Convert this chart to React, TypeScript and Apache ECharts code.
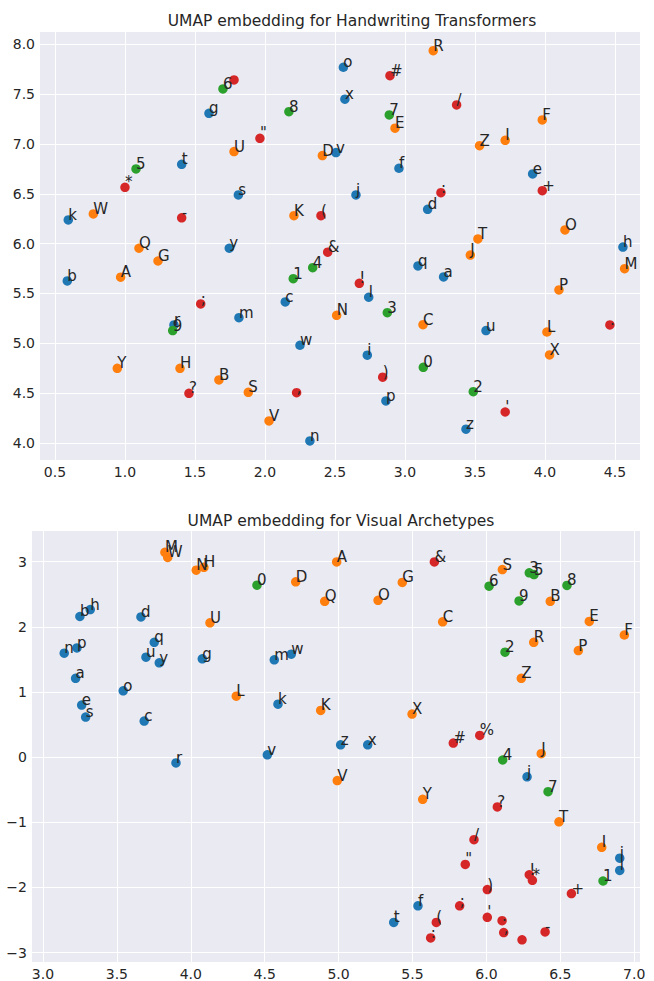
import React, { useEffect, useRef } from 'react';
import * as echarts from 'echarts';

type Pt = [string, number, number];

// ---- Handwriting Transformers embedding ----
const hwLower: Pt[] = [
  ['a', 3.276, 5.666], ['b', 0.588, 5.626], ['c', 2.145, 5.415], ['d', 3.162, 6.345],
  ['e', 3.912, 6.70], ['f', 2.957, 6.757], ['g', 1.60, 7.309], ['h', 4.557, 5.966],
  ['i', 2.731, 4.88], ['j', 2.65, 6.489], ['k', 0.595, 6.238], ['l', 2.741, 5.462],
  ['m', 1.814, 5.257], ['n', 2.321, 4.019], ['o', 2.56, 7.771], ['p', 2.864, 4.421],
  ['q', 3.093, 5.776], ['r', 1.35, 5.184], ['s', 1.81, 6.489], ['t', 1.405, 6.797],
  ['u', 3.579, 5.127], ['v', 2.507, 6.914], ['w', 2.25, 4.98], ['x', 2.571, 7.45],
  ['y', 1.745, 5.954], ['z', 3.436, 4.137],
];
const hwUpper: Pt[] = [
  ['A', 0.969, 5.663], ['B', 1.671, 4.632], ['C', 3.129, 5.187], ['D', 2.41, 6.884],
  ['E', 2.929, 7.159], ['F', 3.981, 7.242], ['G', 1.236, 5.826], ['H', 1.393, 4.749],
  ['I', 3.716, 7.038], ['J', 3.467, 5.886], ['K', 2.207, 6.281], ['L', 4.014, 5.113],
  ['M', 4.569, 5.749], ['N', 2.512, 5.281], ['O', 4.143, 6.138], ['P', 4.10, 5.535],
  ['Q', 1.10, 5.954], ['R', 3.202, 7.938], ['S', 1.881, 4.508], ['T', 3.521, 6.047],
  ['U', 1.779, 6.924], ['V', 2.029, 4.22], ['W', 0.774, 6.298], ['X', 4.033, 4.883],
  ['Y', 0.945, 4.749], ['Z', 3.533, 6.984],
];
const hwDigits: Pt[] = [
  ['0', 3.131, 4.759], ['1', 2.202, 5.648], ['2', 3.488, 4.514], ['3', 2.874, 5.307],
  ['4', 2.341, 5.759], ['5', 1.079, 6.75], ['6', 1.70, 7.553], ['7', 2.888, 7.292],
  ['8', 2.171, 7.325], ['9', 1.341, 5.127],
];
const hwPunct: Pt[] = [
  ['*', 1.0, 6.566], ['-', 1.405, 6.26], ['', 1.779, 7.644], ['"', 1.964, 7.058],
  ['(', 2.40, 6.281], ['&', 2.448, 5.914], ['#', 2.893, 7.687], ['/', 3.369, 7.393],
  [':', 3.257, 6.512], ['+', 3.981, 6.532], ['!', 2.674, 5.602], ['.', 4.464, 5.184],
  [')', 2.841, 4.659], ["'", 3.716, 4.31], [';', 1.541, 5.395], ['?', 1.457, 4.498],
  [',', 2.226, 4.504],
];

// ---- Visual Archetypes embedding ----
const vaLower: Pt[] = [
  ['a', 3.221, 1.209], ['b', 3.25, 2.158], ['c', 3.685, 0.554], ['d', 3.663, 2.152],
  ['e', 3.262, 0.798], ['f', 5.537, -2.282], ['g', 4.078, 1.508], ['h', 3.32, 2.265],
  ['i', 6.902, -1.551], ['j', 6.275, -0.303], ['k', 4.59, 0.813], ['l', 6.902, -1.738],
  ['m', 4.565, 1.493], ['n', 3.144, 1.595], ['o', 3.543, 1.017], ['p', 3.23, 1.676],
  ['q', 3.753, 1.762], ['r', 3.9, -0.09], ['s', 3.289, 0.615], ['t', 5.373, -2.536],
  ['u', 3.697, 1.534], ['v', 4.518, 0.036], ['w', 4.68, 1.58], ['x', 5.197, 0.189],
  ['y', 3.787, 1.447], ['z', 5.014, 0.189],
];
const vaUpper: Pt[] = [
  ['A', 4.987, 2.995], ['B', 6.432, 2.391], ['C', 5.704, 2.076], ['D', 4.71, 2.69],
  ['E', 6.696, 2.082], ['F', 6.933, 1.874], ['G', 5.431, 2.68], ['H', 4.089, 2.913],
  ['I', 6.78, -1.384], ['J', 6.371, 0.052], ['K', 4.879, 0.717], ['L', 4.308, 0.935],
  ['M', 3.825, 3.142], ['N', 4.037, 2.868], ['O', 5.267, 2.406], ['P', 6.622, 1.635],
  ['Q', 4.906, 2.391], ['R', 6.32, 1.762], ['S', 6.108, 2.878], ['T', 6.491, -0.993],
  ['U', 4.13, 2.061], ['V', 4.991, -0.36], ['W', 3.844, 3.065], ['X', 5.497, 0.661],
  ['Y', 5.569, -0.648], ['Z', 6.236, 1.209],
];
const vaDigits: Pt[] = [
  ['0', 4.448, 2.639], ['1', 6.789, -1.901], ['2', 6.126, 1.61], ['3', 6.29, 2.828],
  ['4', 6.11, -0.044], ['5', 6.322, 2.802], ['6', 6.018, 2.624], ['7', 6.417, -0.531],
  ['8', 6.545, 2.635], ['9', 6.221, 2.396],
];
const vaPunct: Pt[] = [
  ['&', 5.648, 2.995], ['#', 5.776, 0.215], ['%', 5.955, 0.332], ['?', 6.074, -0.764],
  ['/', 5.916, -1.267], ['"', 5.857, -1.647], ['!', 6.29, -1.805], ['*', 6.311, -1.89],
  [')', 6.006, -2.033], ['+', 6.575, -2.094], [';', 5.819, -2.282], ['(', 5.661, -2.536],
  [':', 5.623, -2.774], ["'", 6.006, -2.459], ['.', 6.106, -2.51], [',', 6.117, -2.693],
  ['', 6.241, -2.804], ['-', 6.397, -2.682],
];

// ---- Tick values ----
const hwXTicks = [0.5, 1.0, 1.5, 2.0, 2.5, 3.0, 3.5, 4.0, 4.5];
const hwYTicks = [4.0, 4.5, 5.0, 5.5, 6.0, 6.5, 7.0, 7.5, 8.0];
const vaXTicks = [3.0, 3.5, 4.0, 4.5, 5.0, 5.5, 6.0, 6.5, 7.0];
const vaYTicks = [-3, -2, -1, 0, 1, 2, 3];

const titles = ['UMAP embedding for Handwriting Transformers', 'UMAP embedding for Visual Archetypes'];

const GROUP_COLORS = ['#1f77b4', '#ff7f0e', '#2ca02c', '#d62728'];
const TEXT = '#262626';
const FONT = 'DejaVu Sans';
const SYM = 9.5;

export default function App() {
  const ref = useRef<HTMLDivElement>(null);
  useEffect(() => {
    document.body.style.margin = '0';
    if (!ref.current) return;
    const chart = echarts.init(ref.current, undefined, { renderer: 'svg' });

    const fmt1 = (v: number) => v.toFixed(1);
    const fmtInt = (v: number) => (v < 0 ? '\u2212' + Math.abs(v) : String(v));

    const makeAxis = (idx: number, min: number, max: number, ticks: number[], f: (v: number) => string, isX: boolean) => ({
      type: 'value',
      gridIndex: idx,
      min,
      max,
      axisLine: { show: false },
      axisTick: { show: false, customValues: ticks },
      axisLabel: {
        customValues: ticks,
        formatter: (v: number) => f(v),
        color: TEXT,
        fontSize: 14,
        fontFamily: FONT,
        margin: isX ? 5 : 5,
      },
      splitLine: { show: true, lineStyle: { color: '#ffffff', width: 1 } },
    });

    const groupsHW = [hwLower, hwUpper, hwDigits, hwPunct];
    const groupsVA = [vaLower, vaUpper, vaDigits, vaPunct];

    const mkSeries = (groups: Pt[][], gi: number) =>
      groups.map((g, k) => ({
        type: 'scatter',
        xAxisIndex: gi,
        yAxisIndex: gi,
        symbolSize: SYM,
        silent: true,
        itemStyle: { color: GROUP_COLORS[k], opacity: 1 },
        label: {
          show: true,
          formatter: '{b}',
          position: [SYM / 2, SYM / 2 + 2.5],
          align: 'left',
          verticalAlign: 'bottom',
          color: TEXT,
          fontSize: 15,
          fontFamily: FONT,
        },
        emphasis: { disabled: true },
        data: g.map(([name, x, y]) => ({ name, value: [x, y] })),
      }));

    chart.setOption({
      animation: false,
      backgroundColor: '#ffffff',
      title: [
        {
          text: titles[0], left: 347, top: 8, textAlign: 'center',
          textStyle: { color: TEXT, fontSize: 15.5, fontWeight: 'normal', fontFamily: FONT },
        },
        {
          text: titles[1], left: 336, top: 508, textAlign: 'center',
          textStyle: { color: TEXT, fontSize: 15.5, fontWeight: 'normal', fontFamily: FONT },
        },
      ],
      grid: [
        { left: 40, top: 32, width: 600, height: 428, show: true, backgroundColor: '#EAEAF2', borderWidth: 0 },
        { left: 32, top: 531, width: 608, height: 436, show: true, backgroundColor: '#EAEAF2', borderWidth: 0 },
      ],
      xAxis: [
        makeAxis(0, 0.393, 4.679, hwXTicks, fmt1, true),
        makeAxis(1, 2.926, 7.039, vaXTicks, fmt1, true),
      ],
      yAxis: [
        makeAxis(0, 3.828, 8.125, hwYTicks, fmt1, false),
        makeAxis(1, -3.144, 3.47, vaYTicks, fmtInt, false),
      ],
      series: [...mkSeries(groupsHW, 0), ...mkSeries(groupsVA, 1)],
    });

    return () => chart.dispose();
  }, []);
  return <div ref={ref} style={{ width: 654, height: 981 }} />;
}
